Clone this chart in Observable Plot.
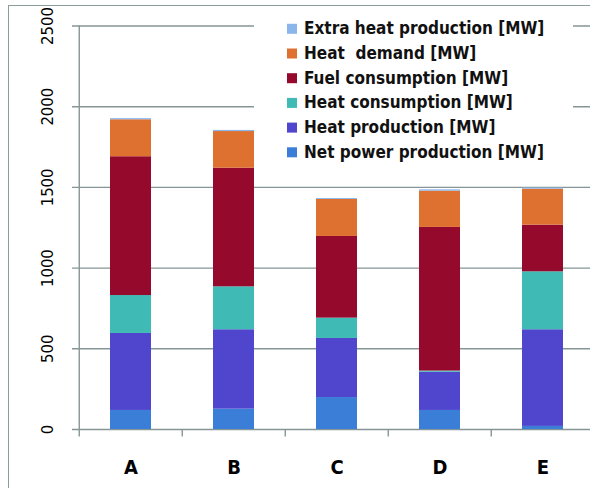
<!DOCTYPE html>
<html><head><meta charset="utf-8">
<script src="https://cdn.jsdelivr.net/npm/d3@7"></script>
<script src="https://cdn.jsdelivr.net/npm/@observablehq/plot@0.6"></script>
<style>
html,body{margin:0;padding:0;background:#fff;}
#wrap{position:relative;width:590px;height:488px;overflow:hidden;}
#wrap svg{display:block;}
#chart{position:absolute;left:0;top:0;}
#frame{position:absolute;left:8px;top:5px;right:-4px;bottom:-4px;border-left:1.5px solid #8d9c9c;border-top:1.5px solid #8d9c9c;}
#legend{position:absolute;left:254px;top:12px;}
</style>
</head>
<body>
<div id="wrap"><div id="frame"></div><div id="chart"></div><div id="legend"></div></div>
<script>
// ---- data ----
const categories = ["A", "B", "C", "D", "E"];
const seriesNames = [
  "Net power production [MW]",
  "Heat production [MW]",
  "Heat consumption [MW]",
  "Fuel consumption [MW]",
  "Heat  demand [MW]",
  "Extra heat production [MW]"
];
const netPower        = [118, 126, 198, 118, 19];
const heatProduction  = [477, 492, 366, 237, 599];
const heatConsumption = [235, 266, 126, 7, 359];
const fuelConsumption = [860, 735, 506, 890, 289];
const heatDemand      = [229, 227, 229, 225, 223];
const extraHeat       = [7, 7, 6, 8, 7];
const yTicks = [0, 500, 1000, 1500, 2000, 2500];
const seriesColors = ["#3a7ed8", "#5046ce", "#3fbab5", "#950a2c", "#de7030", "#8ab6ec"];

const seriesValues = [netPower, heatProduction, heatConsumption, fuelConsumption, heatDemand, extraHeat];
const rows = [];
seriesNames.forEach((s, si) => categories.forEach((c, ci) => rows.push({cat: c, series: s, value: seriesValues[si][ci]})));

const axisColor = "#869595";
const font = "'DejaVu Sans Condensed','DejaVu Sans',sans-serif";
const x0 = 78, x1 = 595.5;
const step = (x1 - x0) / categories.length;

const chart = Plot.plot({
  width: 590, height: 488,
  marginTop: 25.5, marginBottom: 59, marginLeft: 78, marginRight: 0,
  x: {domain: categories, range: [x0, x1], paddingInner: 0.604, paddingOuter: 0.302, axis: null},
  y: {domain: [0, 2500], axis: null},
  color: {domain: seriesNames, range: seriesColors},
  style: {background: "transparent", fontFamily: font, overflow: "hidden"},
  marks: [
    Plot.ruleY(yTicks, {y: d => d, stroke: axisColor, strokeWidth: 1.4, insetLeft: -6}),
    Plot.barY(rows, Plot.stackY({order: seriesNames}, {x: "cat", y: "value", fill: "series"})),
    Plot.ruleX([categories[0]], {x: d => d, y1: 0, y2: 2500, dx: -step / 2, stroke: axisColor, strokeWidth: 1.4}),
    Plot.ruleX(categories, {x: d => d, y1: 0, y2: 0, insetBottom: -7.5, dx: -step / 2, stroke: axisColor, strokeWidth: 1.4}),
    Plot.text(yTicks, {y: d => d, text: d => String(d), frameAnchor: "left", dx: -31, rotate: -90,
      textAnchor: "middle", lineAnchor: "middle", fontSize: 16.5, fill: "#000"}),
    Plot.text(categories, {x: d => d, text: d => d, frameAnchor: "bottom", dy: 38.5,
      lineAnchor: "middle", fontSize: 20, fontWeight: "bold", fill: "#000"})
  ]
});
document.getElementById("chart").appendChild(chart);

// ---- legend (overlay box) ----
const lg = d3.select("#legend").append("svg").attr("width", 319).attr("height", 168);
lg.append("rect").attr("width", 319).attr("height", 168).attr("fill", "#fff");
const items = seriesNames.map((s, i) => ({s, c: seriesColors[i]})).reverse();
const g = lg.selectAll("g").data(items).join("g")
  .attr("transform", (d, i) => `translate(0,${22.3 + 24.7 * i})`);
g.append("rect").attr("x", 33).attr("y", -10.5).attr("width", 10).attr("height", 10).attr("fill", d => d.c);
g.append("text").attr("x", 50).attr("y", 0).attr("xml:space", "preserve").style("white-space", "pre")
  .attr("font-family", font).attr("font-weight", "bold").attr("font-size", 17).attr("fill", "#111")
  .text(d => d.s);
</script>
</body></html>
